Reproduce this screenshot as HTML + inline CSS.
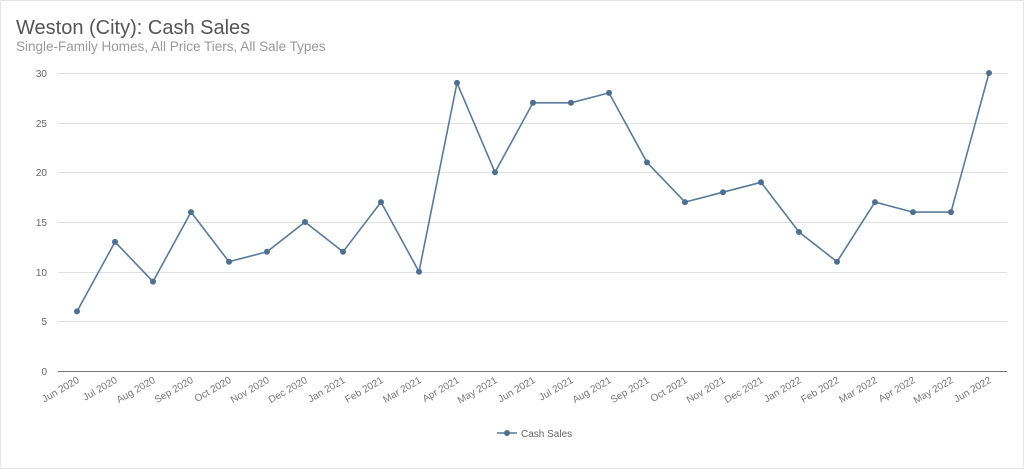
<!DOCTYPE html>
<html><head><style>
html,body{margin:0;padding:0;background:#fff;}
svg{display:block;font-family:"Liberation Sans",sans-serif;}
</style></head><body>
<svg width="1024" height="469" viewBox="0 0 1024 469">
<rect x="0.5" y="0.5" width="1023" height="468" fill="#fff" stroke="#e6e6e6"/>
<text x="16" y="34" font-size="20" fill="#555">Weston (City): Cash Sales</text>
<text x="16" y="51" font-size="13.5" fill="#999">Single-Family Homes, All Price Tiers, All Sale Types</text>
<g stroke="#e0e0e0" stroke-width="1">
<line x1="58" x2="1007" y1="73.5" y2="73.5"/>
<line x1="58" x2="1007" y1="123.5" y2="123.5"/>
<line x1="58" x2="1007" y1="172.5" y2="172.5"/>
<line x1="58" x2="1007" y1="222.5" y2="222.5"/>
<line x1="58" x2="1007" y1="272.5" y2="272.5"/>
<line x1="58" x2="1007" y1="321.5" y2="321.5"/>
</g>
<line x1="58" x2="1007" y1="371.5" y2="371.5" stroke="#777"/>
<g font-size="10" fill="#666" text-anchor="end">
<text x="47" y="77">30</text><text x="47" y="127">25</text><text x="47" y="176">20</text>
<text x="47" y="226">15</text><text x="47" y="276">10</text><text x="47" y="325">5</text><text x="47" y="375">0</text>
</g>
<g font-size="10" fill="#777" text-anchor="end">
<text transform="translate(80,382) rotate(-30)">Jun 2020</text>
<text transform="translate(118,382) rotate(-30)">Jul 2020</text>
<text transform="translate(156,382) rotate(-30)">Aug 2020</text>
<text transform="translate(194,382) rotate(-30)">Sep 2020</text>
<text transform="translate(232,382) rotate(-30)">Oct 2020</text>
<text transform="translate(270,382) rotate(-30)">Nov 2020</text>
<text transform="translate(308,382) rotate(-30)">Dec 2020</text>
<text transform="translate(346,382) rotate(-30)">Jan 2021</text>
<text transform="translate(384,382) rotate(-30)">Feb 2021</text>
<text transform="translate(422,382) rotate(-30)">Mar 2021</text>
<text transform="translate(460,382) rotate(-30)">Apr 2021</text>
<text transform="translate(498,382) rotate(-30)">May 2021</text>
<text transform="translate(536,382) rotate(-30)">Jun 2021</text>
<text transform="translate(574,382) rotate(-30)">Jul 2021</text>
<text transform="translate(612,382) rotate(-30)">Aug 2021</text>
<text transform="translate(650,382) rotate(-30)">Sep 2021</text>
<text transform="translate(688,382) rotate(-30)">Oct 2021</text>
<text transform="translate(726,382) rotate(-30)">Nov 2021</text>
<text transform="translate(764,382) rotate(-30)">Dec 2021</text>
<text transform="translate(802,382) rotate(-30)">Jan 2022</text>
<text transform="translate(840,382) rotate(-30)">Feb 2022</text>
<text transform="translate(878,382) rotate(-30)">Mar 2022</text>
<text transform="translate(916,382) rotate(-30)">Apr 2022</text>
<text transform="translate(954,382) rotate(-30)">May 2022</text>
<text transform="translate(992,382) rotate(-30)">Jun 2022</text>
</g>
<polyline fill="none" stroke="#5a7a99" stroke-width="1.6" points="77,311.4 115,241.9 153,281.6 191,212.1 229,261.7 267,251.8 305,222 343,251.8 381,202.1 419,271.7 457,82.9 495,172.3 533,102.8 571,102.8 609,92.9 647,162.4 685,202.1 723,192.2 761,182.3 799,232 837,261.7 875,202.1 913,212.1 951,212.1 989,73"/>
<g fill="#4f6f8f">
<circle cx="77" cy="311.4" r="3"/><circle cx="115" cy="241.9" r="3"/><circle cx="153" cy="281.6" r="3"/><circle cx="191" cy="212.1" r="3"/><circle cx="229" cy="261.7" r="3"/><circle cx="267" cy="251.8" r="3"/><circle cx="305" cy="222" r="3"/><circle cx="343" cy="251.8" r="3"/><circle cx="381" cy="202.1" r="3"/><circle cx="419" cy="271.7" r="3"/><circle cx="457" cy="82.9" r="3"/><circle cx="495" cy="172.3" r="3"/><circle cx="533" cy="102.8" r="3"/><circle cx="571" cy="102.8" r="3"/><circle cx="609" cy="92.9" r="3"/><circle cx="647" cy="162.4" r="3"/><circle cx="685" cy="202.1" r="3"/><circle cx="723" cy="192.2" r="3"/><circle cx="761" cy="182.3" r="3"/><circle cx="799" cy="232" r="3"/><circle cx="837" cy="261.7" r="3"/><circle cx="875" cy="202.1" r="3"/><circle cx="913" cy="212.1" r="3"/><circle cx="951" cy="212.1" r="3"/><circle cx="989" cy="73" r="3"/>
</g>
<line x1="497" x2="517" y1="433" y2="433" stroke="#5a7a99" stroke-width="1.6"/>
<circle cx="507" cy="433" r="3" fill="#4f6f8f"/>
<text x="521" y="437" font-size="10" fill="#666">Cash Sales</text>
</svg>
</body></html>
